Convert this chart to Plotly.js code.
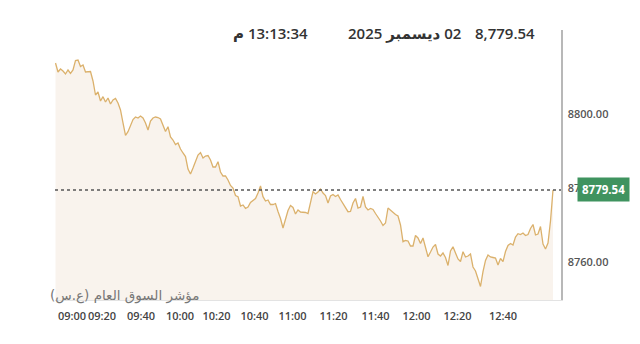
<!DOCTYPE html>
<html>
<head>
<meta charset="utf-8">
<script src="https://cdn.plot.ly/plotly-3.0.1.min.js"></script>
<style>html,body{margin:0;padding:0;background:#fff;}#chart{width:640px;height:344px;}</style>
</head>
<body>
<div id="chart"></div>
<script>
// Index values (sampled evenly along the session)
const values = [
8813.86,8811.43,8812.24,8811.70,8810.89,8811.97,8811.03,8811.97,8814.54,8814.67,
8812.92,8813.32,8811.43,8811.43,8811.57,8809.00,8805.21,8806.03,8803.59,8804.76,
8803.32,8804.40,8802.78,8803.86,8804.27,8803.05,8801.16,8797.65,8794.27,8795.30,
8797.11,8798.59,8799.27,8799.00,8799.54,8799.00,8797.65,8795.76,8798.19,8799.00,
8799.27,8799.13,8798.73,8797.11,8795.35,8796.65,8793.86,8793.05,8791.84,8792.24,
8790.62,8789.54,8788.59,8785.21,8783.86,8785.49,8787.51,8789.00,8789.67,8788.19,
8788.73,8788.86,8787.65,8785.76,8785.76,8787.19,8784.40,8783.32,8783.32,8782.24,
8780.76,8780.08,8778.05,8777.73,8775.21,8775.49,8774.54,8774.94,8776.16,8776.84,
8777.24,8778.73,8780.62,8777.73,8776.57,8776.84,8775.62,8775.62,8775.89,8773.73,
8771.84,8769.27,8771.97,8774.00,8775.35,8774.81,8773.05,8774.13,8773.59,8773.59,
8773.46,8773.19,8776.57,8779.08,8778.46,8779.00,8779.81,8778.73,8778.05,8776.03,
8777.92,8778.32,8777.78,8778.19,8776.97,8775.89,8774.81,8773.67,8773.73,8776.03,
8777.24,8774.67,8774.94,8777.78,8774.94,8774.13,8774.54,8774.27,8773.19,8772.32,
8771.16,8769.94,8770.62,8774.67,8774.00,8773.32,8772.92,8772.51,8770.08,8765.57,
8765.89,8765.76,8764.40,8764.40,8767.24,8766.57,8765.08,8766.57,8763.59,8761.51,
8762.78,8764.13,8764.81,8762.24,8761.70,8762.51,8761.30,8759.13,8763.05,8764.21,
8762.51,8760.89,8760.21,8762.86,8761.43,8761.70,8762.24,8758.73,8757.65,8755.21,
8753.46,8757.46,8760.49,8761.97,8761.43,8761.30,8761.16,8759.27,8761.03,8760.16,
8762.92,8764.54,8765.08,8764.67,8766.84,8767.73,8767.51,8767.92,8767.24,8767.51,
8769.13,8770.21,8767.38,8767.65,8769.67,8764.94,8763.59,8765.21,8771.16,8779.54
];
// Tick positions (sample index) and labels
const tickIdx = [6.6, 18.6, 34.2, 49.8, 64.4, 79.6, 94.8, 111.2, 128, 144.4, 160.8, 179];
const tickText = ["09:00","09:20","09:40","10:00","10:20","10:40","11:00","11:20","11:40","12:00","12:20","12:40"];
const yTicks = [8760, 8780, 8800];
const lastValue = 8779.54;
const headerValue = "8,779.54";
const headerDate = "02 ديسمبر 2025";
const headerTime = "13:13:34 م";
const indexName = "مؤشر السوق العام (ع.س)";

const idx = values.map((v, i) => i);
const RLE = "\u202B", PDF = "\u202C";
const fontFam = "Open Sans, DejaVu Sans, sans-serif";

const trace = {
  x: idx, y: values, type: "scatter", mode: "lines",
  line: {color: "#dbb16c", width: 1.3},
  fill: "tozeroy", fillcolor: "#f9f3ed",
  hoverinfo: "skip"
};

const layout = {
  width: 640, height: 344,
  margin: {l: 55, r: 79, t: 30, b: 44, pad: 0},
  paper_bgcolor: "#ffffff", plot_bgcolor: "#ffffff",
  showlegend: false,
  xaxis: {
    range: [-0.2, 202.2], showgrid: false, zeroline: false,
    showline: true, linecolor: "#e3e3e3", linewidth: 1,
    tickmode: "array", tickvals: tickIdx, ticktext: tickText,
    tickangle: 0, ticks: "", ticklabelstandoff: 6,
    tickfont: {family: fontFam, size: 11, color: "#444", weight: 600}
  },
  yaxis: {
    side: "right", range: [8749.81, 8822.78],
    showgrid: false, zeroline: false,
    showline: true, linecolor: "#b8b8b8", linewidth: 1.5,
    tickmode: "array", tickvals: yTicks, tickformat: ".2f",
    ticks: "", ticklabelstandoff: 3,
    tickfont: {family: fontFam, size: 11, color: "#555", weight: 600}
  },
  shapes: [{
    type: "line", xref: "paper", x0: 0, x1: 1, yref: "y", y0: lastValue, y1: lastValue,
    line: {color: "#555", width: 1.3, dash: "dot"}
  }],
  annotations: [
    {xref: "paper", yref: "y", x: 1, xanchor: "left", xshift: 16, y: lastValue, yanchor: "middle",
     text: "<b>" + lastValue.toFixed(2) + "</b>", showarrow: false, bgcolor: "#3f935f", borderpad: 4,
     font: {family: fontFam, size: 11.5, color: "#ffffff"}},
    {xref: "paper", yref: "paper", x: 0.9526, xanchor: "right", y: 0.988, yanchor: "middle",
     text: headerValue, showarrow: false,
     font: {family: fontFam, size: 15, color: "#333", weight: 600}},
    {xref: "paper", yref: "paper", x: 0.8063, xanchor: "right", y: 0.988, yanchor: "middle",
     text: RLE + headerDate + PDF, showarrow: false,
     font: {family: fontFam, size: 15, color: "#333", weight: 600}},
    {xref: "paper", yref: "paper", x: 0.504, xanchor: "right", y: 0.988, yanchor: "middle",
     text: RLE + headerTime + PDF, showarrow: false,
     font: {family: fontFam, size: 15, color: "#333", weight: 600}},
    {xref: "paper", yref: "paper", x: -0.0138, xanchor: "left", y: 0.015, yanchor: "middle",
     text: RLE + indexName + PDF, showarrow: false,
     font: {family: "DejaVu Sans, sans-serif", size: 13.5, color: "#777"}}
  ]
};

Plotly.newPlot("chart", [trace], layout, {displayModeBar: false, staticPlot: true});
</script>
</body>
</html>
